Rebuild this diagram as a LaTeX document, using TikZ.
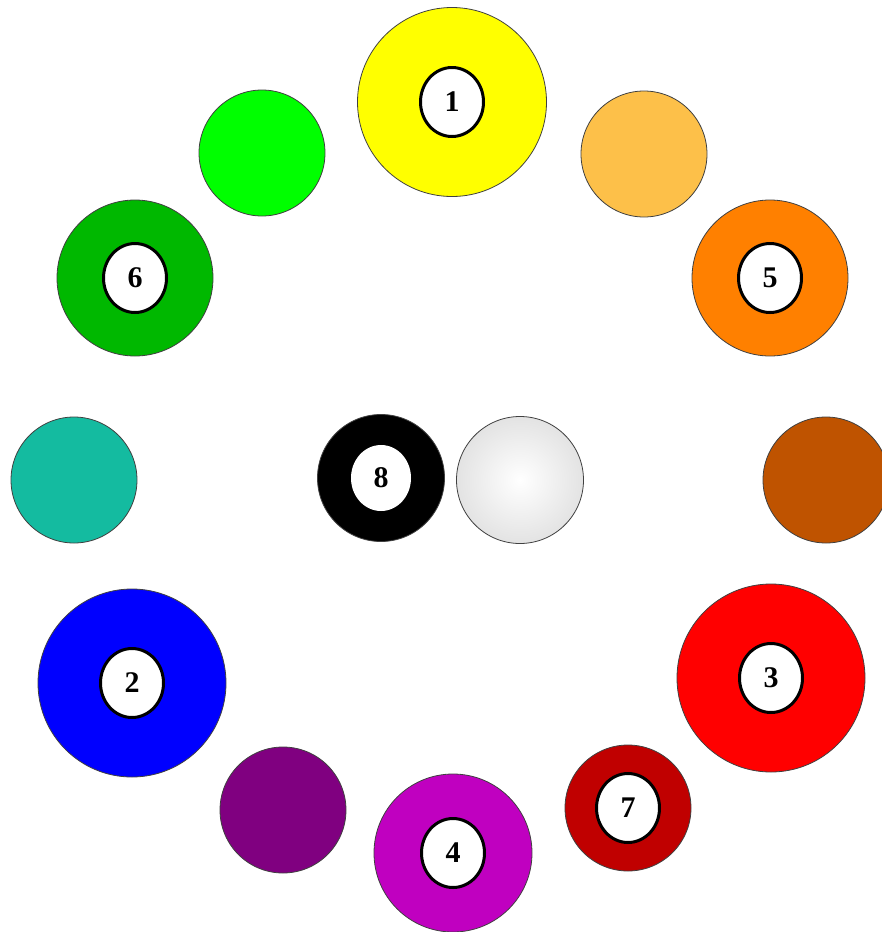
\documentclass[tikz,border=0pt]{standalone}
\usepackage{fontspec}
\setmainfont{Liberation Serif}
\usetikzlibrary{shapes.geometric}
\definecolor{ballyellow}{HTML}{FFFF00}
\definecolor{balllgreen}{HTML}{00FF00}
\definecolor{balllorange}{HTML}{FDC049}
\definecolor{ballgreen}{HTML}{00B800}
\definecolor{ballorange}{HTML}{FF8000}
\definecolor{ballteal}{HTML}{14BBA0}
\definecolor{ballbrown}{HTML}{BF5300}
\definecolor{ballblue}{HTML}{0000FF}
\definecolor{ballred}{HTML}{FF0000}
\definecolor{ballpurple}{HTML}{800080}
\definecolor{balldarkred}{HTML}{C00000}
\definecolor{ballmagenta}{HTML}{C000C0}

\begin{document}
\begin{tikzpicture}[x=1pt,y=-1pt,
  ball/.style={circle,draw=black!75,line width=0.8pt,inner sep=0pt,minimum size=#1},
  spot/.style={ellipse,draw,line width=3pt,fill=white,inner sep=0pt,
    minimum width=63pt,minimum height=69pt,font=\bfseries\fontsize{30}{30}\selectfont}]
\useasboundingbox (0,0) rectangle (882,932);
\clip (0,0) rectangle (882,932);
% plain balls
\foreach \nm/\px/\py/\c in {lgreen/262/153/balllgreen,lorange/644/154/balllorange,
  teal/74/480/ballteal,brown/826/480/ballbrown,purple/283/810/ballpurple}
  \node[ball=126pt,fill=\c] (\nm) at (\px,\py) {};
% numbered balls
\foreach \k/\px/\py/\d/\c in {1/452/102/189/ballyellow,2/132/683/188/ballblue,
  3/771/678/188/ballred,4/453/853/158/ballmagenta,5/770/278/156/ballorange,
  6/135/278/156/ballgreen,7/628/808/126/balldarkred}{
  \node[ball=\d pt,fill=\c] (b\k) at (\px,\py) {};
  \node[spot] (n\k) at (b\k.center) {\k};
}
% eight ball and cue ball
\node[ball=127pt,fill=black] (b8) at (381,478) {};
\node[spot,draw=none,minimum width=60pt,minimum height=66pt] (n8) at (b8.center) {8};
\node[ball=127pt,inner color=white,outer color=gray!22] (cue) at (520,480) {};
\end{tikzpicture}
\end{document}
